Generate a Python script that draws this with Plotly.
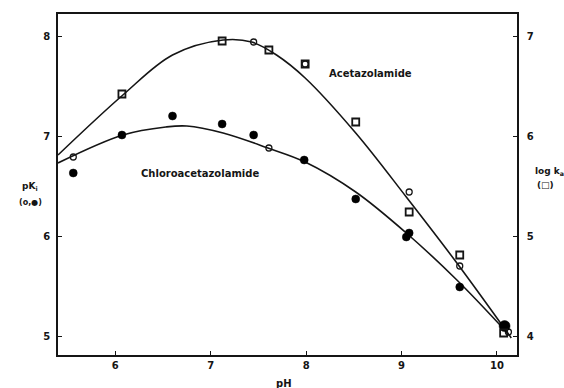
import plotly.graph_objs as go

# Measured points read off the figure
# open circles: pK (acetazolamide)
open_ph = [5.56, 7.45, 7.61, 7.99, 9.08, 9.61, 10.12]
open_pk = [6.79, 7.94, 6.88, 7.72, 6.44, 5.70, 5.04]

# filled circles: pK (chloroacetazolamide)
filled_ph = [5.56, 6.07, 6.60, 7.12, 7.45, 7.98, 8.52, 9.05, 9.08, 9.61, 10.08]
filled_pk = [6.63, 7.01, 7.20, 7.12, 7.01, 6.76, 6.37, 5.99, 6.03, 5.49, 5.10]

# open squares: log k (right axis)
square_ph = [6.07, 7.12, 7.61, 7.99, 8.52, 9.08, 9.61, 10.07]
square_logk = [6.42, 6.95, 6.86, 6.72, 6.14, 5.24, 4.81, 4.03]

# fitted curves
acet_ph = [5.40, 6.08, 6.60, 7.13, 7.43, 7.69, 7.99, 8.52, 9.05, 9.58, 10.15]
acet_pk = [6.81, 7.41, 7.81, 7.96, 7.94, 7.81, 7.58, 7.03, 6.39, 5.73, 4.98]

chloro_ph = [5.40, 6.08, 6.53, 6.75, 7.13, 7.60, 7.99, 8.52, 9.05, 9.58, 10.11]
chloro_pk = [6.73, 7.01, 7.09, 7.10, 7.03, 6.88, 6.74, 6.44, 6.03, 5.56, 5.03]

x_ticks = [6, 7, 8, 9, 10]
y_ticks = [5, 6, 7, 8]
y2_ticks = [4, 5, 6, 7]

ink = '#151515'
font = dict(family='DejaVu Sans', size=10, color=ink, weight='bold')
small = dict(font, size=9)

W, H = 564, 388
# plot frame in pixels: left 58, right 517, top 14, bottom 355
L, T = 58, 14
R = W - 517
B = H - 355


def px(x, y):
    # pixel -> paper coordinates
    return (x - L) / (W - L - R), 1 - (y - T) / (H - T - B)


fig = go.Figure()

fig.add_trace(go.Scatter(
    x=acet_ph, y=acet_pk, mode='lines', line=dict(color=ink, width=1.6, shape='spline', smoothing=1.0),
    showlegend=False, hoverinfo='skip'
))
fig.add_trace(go.Scatter(
    x=chloro_ph, y=chloro_pk, mode='lines', line=dict(color=ink, width=1.6, shape='spline', smoothing=1.0),
    showlegend=False, hoverinfo='skip'
))
fig.add_trace(go.Scatter(
    x=square_ph, y=square_logk, yaxis='y2', mode='markers',
    marker=dict(symbol='square-open', size=7, color=ink, line=dict(width=1.8, color=ink), opacity=1),
    showlegend=False
))
fig.add_trace(go.Scatter(
    x=open_ph, y=open_pk, mode='markers',
    marker=dict(symbol='circle-open', size=6, color=ink, line=dict(width=1.3, color=ink), opacity=1),
    showlegend=False
))
fig.add_trace(go.Scatter(
    x=filled_ph, y=filled_pk, mode='markers',
    marker=dict(symbol='circle', size=[8] * (len(filled_ph) - 1) + [11], color='black',
                line=dict(width=0.5, color='black'), opacity=1),
    showlegend=False
))

annotations = [
    dict(x=8.67, y=7.63, xref='x', yref='y', text='Acetazolamide', showarrow=False, font=font),
    dict(x=6.89, y=6.63, xref='x', yref='y', text='Chloroacetazolamide', showarrow=False, font=font),
]
for text, (x, y), anchor, f in [
    ('pH', (284, 376), 'top', font),
    ('pK<sub>i</sub>', (30, 186), 'middle', small),
    ('(o,●)', (30, 203), 'middle', dict(font, size=8)),
    ('log k<sub>a</sub>', (549, 171), 'middle', small),
    ('(□)', (545, 185), 'middle', small),
]:
    ax, ay = px(x, y)
    annotations.append(dict(x=ax, y=ay, xref='paper', yref='paper', text=text, showarrow=False,
                            font=f, xanchor='center', yanchor=anchor))

fig.update_layout(
    width=W, height=H,
    margin=dict(l=L, r=R, t=T, b=B, autoexpand=False),
    paper_bgcolor='white', plot_bgcolor='white',
    font=font,
    xaxis=dict(
        range=[5.40, 10.21], tickvals=x_ticks, ticks='inside', ticklen=4, tickwidth=1.3,
        tickcolor=ink, showline=True, linecolor=ink, linewidth=1.6, mirror=True,
        showgrid=False, zeroline=False, tickfont=font
    ),
    yaxis=dict(
        range=[4.81, 8.22], tickvals=y_ticks, ticks='inside', ticklen=4, tickwidth=1.3,
        tickcolor=ink, showline=True, linecolor=ink, linewidth=1.6,
        showgrid=False, zeroline=False, tickfont=font, ticklabelstandoff=4
    ),
    yaxis2=dict(
        range=[3.81, 7.22], tickvals=y2_ticks, ticks='inside', ticklen=4, tickwidth=1.3,
        tickcolor=ink, showline=True, linecolor=ink, linewidth=1.6, overlaying='y', side='right',
        showgrid=False, zeroline=False, tickfont=font, ticklabelstandoff=6
    ),
    annotations=annotations,
)

# drop the page margin so the figure sits at the window's corner; no modebar
fig.write_html(
    "out.html",
    config={'displayModeBar': False},
    post_script="document.body.style.margin='0';document.body.style.overflow='hidden';"
)
